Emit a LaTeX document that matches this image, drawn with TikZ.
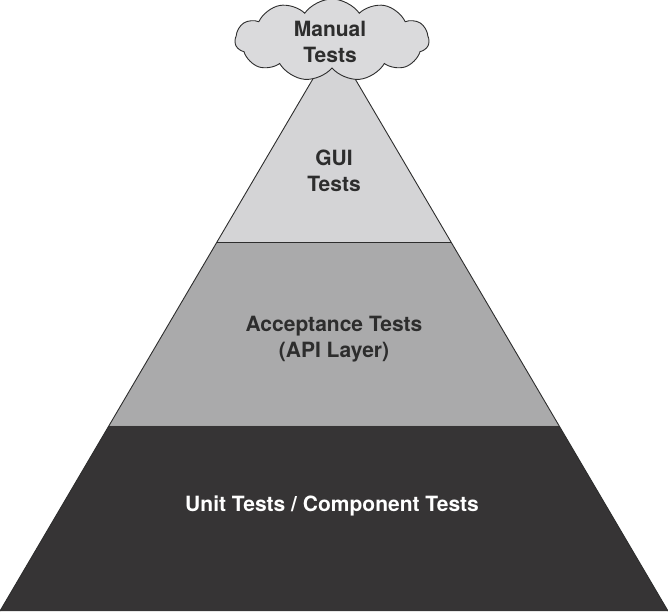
\documentclass[tikz,border=0pt]{standalone}
\usepackage{fontspec}
\setmainfont{TeX Gyre Heros}
\usepackage{tikz}
\usetikzlibrary{calc, shapes.symbols}
\definecolor{guicolor}{RGB}{212,212,214}
\definecolor{apicolor}{RGB}{170,170,171}
\definecolor{unitcolor}{RGB}{54,52,53}
\definecolor{edgecolor}{RGB}{45,45,45}

\begin{document}
\begin{tikzpicture}[
    x=1pt, y=-1pt,
    layer/.style={font=\bfseries\fontsize{21}{26}\selectfont, align=center, text=edgecolor},
    cloudnode/.style={cloud, cloud puffs=11, cloud puff arc=110, aspect=2.4, draw=edgecolor, line width=0.9pt,
        fill=guicolor!85!white, minimum width=194pt, minimum height=82pt, inner sep=0pt},
]
    \useasboundingbox (0,0) rectangle (668,611);
    \coordinate (apex) at (334,43);
    \coordinate (bl) at (0,611);
    \coordinate (br) at (668,611);
    % band limits
    \coordinate (gl) at ($(apex)!0.3504!(bl)$);
    \coordinate (gr) at ($(apex)!0.3504!(br)$);
    \coordinate (al) at ($(apex)!0.6725!(bl)$);
    \coordinate (ar) at ($(apex)!0.6725!(br)$);

    \fill[unitcolor] (al) -- (ar) -- (br) -- (bl) -- cycle;
    \fill[apicolor] (gl) -- (gr) -- (ar) -- (al) -- cycle;
    \fill[guicolor] (apex) -- (gr) -- (gl) -- cycle;
    \draw[edgecolor, line width=0.9pt] (gl) -- (gr);
    \draw[gray!70, line width=0.8pt] (al) -- (ar);
    \draw[edgecolor, line width=0.9pt] (bl) -- (apex) -- (br);

    \node[layer] (gui) at (334,171) {GUI\\Tests};
    \node[layer] (api) at (334,339) {Acceptance Tests\\(API Layer)};
    \node[layer, text=white] (unit) at (332,506) {Unit Tests / Component Tests};
    \node[cloudnode] (manual) at (332,40) {};
    \node[layer] (manualtxt) at (330,42) {Manual\\Tests};
\end{tikzpicture}
\end{document}
